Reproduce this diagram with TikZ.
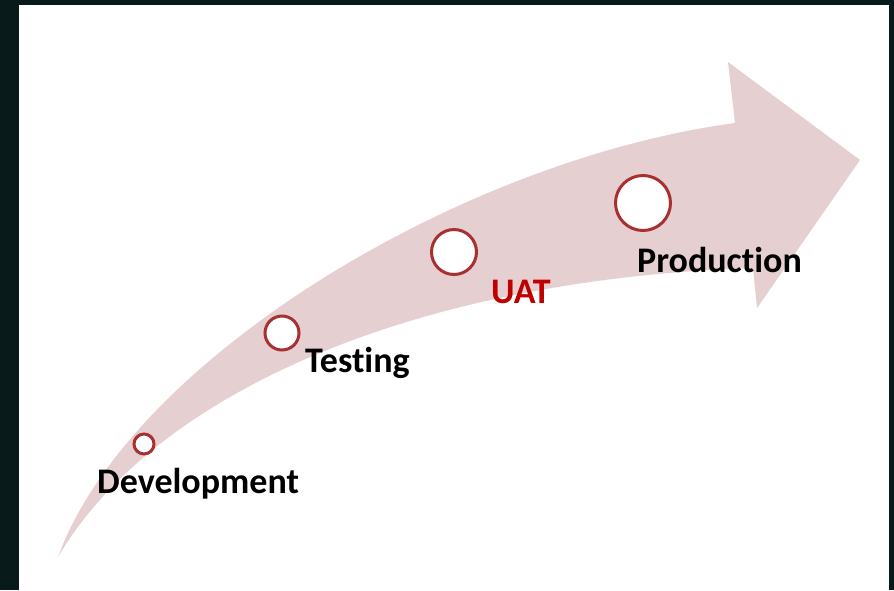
\documentclass[tikz,border=0pt]{standalone}
\usepackage{fontspec}
\setmainfont[Ligatures=NoCommon]{Carlito}
\usetikzlibrary{positioning, calc}

\definecolor{frame}{HTML}{081A1A}
\definecolor{band}{HTML}{E6CFD0}
\definecolor{ring}{HTML}{A83030}
\definecolor{uatred}{HTML}{C00000}

\begin{document}
\begin{tikzpicture}[
    x=1pt, y=-1pt,
    font=\fontsize{36}{40}\selectfont\bfseries,
    stage/.style={circle, draw=ring, line width=3pt, fill=white, inner sep=0pt},
    caption/.style={anchor=base west, inner sep=0pt, text=black}
]

    % Frame
    \fill[frame] (0,0) rectangle (894,590);
    \fill[white] (19,5) rectangle (889,590);
    \useasboundingbox (0,0) rectangle (894,590);

    % Curved arrow
    \fill[band] (58,557) .. controls (130,360) and (460,160) .. (735,123)
        -- (728,62) -- (860,160) -- (757,308) -- (753,268)
        .. controls (400,280) and (150,400) .. cycle;

    % Stages
    \node[stage, minimum size=20pt] (dev) at (144,444) {};
    \node[stage, minimum size=34pt] (testing) at (282,333) {};
    \node[stage, minimum size=45pt] (uat) at (454,252) {};
    \node[stage, minimum size=55pt] (prod) at (643,203) {};

    % Labels
    \node[caption] (devlabel) at ([shift={(-47,49)}]dev.center) {Development};
    \node[caption] (testinglabel) at ([shift={(23,39)}]testing.center) {Testing};
    \node[caption, text=uatred] (uatlabel) at ([shift={(37,51)}]uat.center) {UAT};
    \node[caption] (prodlabel) at ([shift={(-6,69)}]prod.center) {Production};

\end{tikzpicture}
\end{document}
